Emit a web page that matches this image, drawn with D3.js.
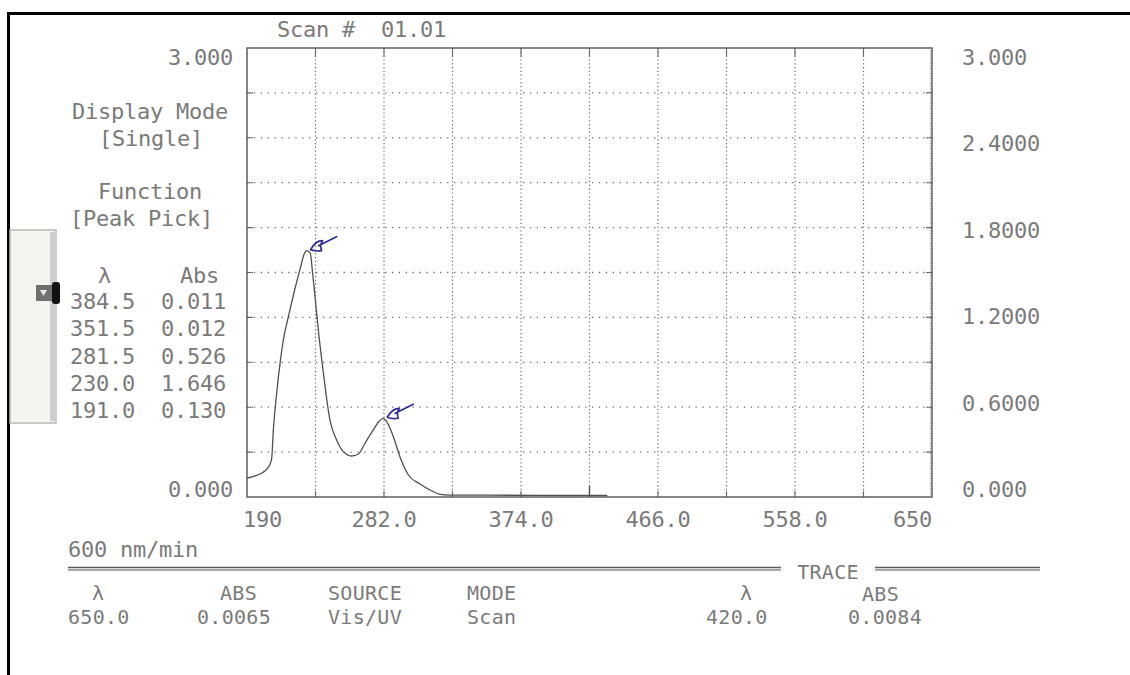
<!DOCTYPE html>
<html>
<head>
<meta charset="utf-8">
<script src="https://cdn.jsdelivr.net/npm/d3@7"></script>
<style>
  body { margin: 0; background: #fff; }
  svg { display: block; }
  text { font-family: "DejaVu Sans Mono", monospace; font-size: 22px; letter-spacing: -0.25px; fill: #7a7a7a; white-space: pre; }
  text.small { font-size: 20px; letter-spacing: 0.3px; }
</style>
</head>
<body>
<script>
//************************************************************
// Data
//************************************************************
var wavelength = [190, 195, 200, 204, 205.5, 206.6, 207.7, 210, 212.2, 214.4, 217.8, 222, 225.5, 228.5, 230,
  232.5, 234, 235.7, 237.9, 241.3, 245.7, 250.2, 254.7, 260.3, 264.8, 269.2, 274.8, 279, 281.5,
  283.8, 288.3, 292.7, 298.4, 306.2, 312.9, 319.6, 326.3, 351.5, 384.5, 432];
var absorbance = [0.127, 0.14, 0.16, 0.194, 0.22, 0.26, 0.45, 0.70, 0.895, 1.049, 1.205, 1.383, 1.517, 1.625, 1.646,
  1.63, 1.50, 1.338, 1.116, 0.828, 0.514, 0.381, 0.303, 0.274, 0.287, 0.359, 0.448, 0.51, 0.526,
  0.503, 0.403, 0.269, 0.147, 0.087, 0.047, 0.018, 0.013, 0.012, 0.011, 0.010];

var peakLambda = [384.5, 351.5, 281.5, 230.0, 191.0];
var peakAbs = [0.011, 0.012, 0.526, 1.646, 0.130];
var markedPeaks = [230.0, 281.5];   // peaks ticked with the blue pen

var xTicks = [190, 282, 374, 466, 558, 650];
var xTickLabels = ['190', '282.0', '374.0', '466.0', '558.0', '650'];
var yRightTicks = [3, 2.4, 1.8, 1.2, 0.6, 0];
var yRightLabels = ['3.000', '2.4000', '1.8000', '1.2000', '0.6000', '0.000'];
var traceLambda = 420.0;

//************************************************************
// Frame and scales
//************************************************************
const W = 1130, H = 675;
const plot = { left: 247, right: 932, top: 48, bottom: 497 };

const x = d3.scaleLinear().domain([190, 650]).range([plot.left, plot.right]);
const y = d3.scaleLinear().domain([0, 3]).range([plot.bottom, plot.top]);

const svg = d3.select("body").append("svg")
  .attr("width", W)
  .attr("height", H);

// scanned page edge
svg.append("rect").attr("x", 0).attr("y", 0).attr("width", W).attr("height", H).attr("fill", "#fff");
svg.append("line").attr("x1", 7).attr("x2", W).attr("y1", 13.5).attr("y2", 13.5)
  .attr("stroke", "#000").attr("stroke-width", 3);
svg.append("line").attr("x1", 8.5).attr("x2", 8.5).attr("y1", 12).attr("y2", H)
  .attr("stroke", "#000").attr("stroke-width", 3);

// the little window slider caught by the scanner on the left
const slider = svg.append("g");
slider.append("rect").attr("x", 10).attr("y", 230).attr("width", 46).attr("height", 193)
  .attr("fill", "#f6f4ee").attr("stroke", "#b8b8b8").attr("stroke-width", 1.5);
slider.append("rect").attr("x", 50).attr("y", 232).attr("width", 7).attr("height", 189).attr("fill", "#cfcfcf");
slider.append("rect").attr("x", 36).attr("y", 285).attr("width", 20).attr("height", 16).attr("fill", "#6f6f6f");
slider.append("rect").attr("x", 52).attr("y", 282).attr("width", 8).attr("height", 22).attr("rx", 3).attr("fill", "#111");
slider.append("path").attr("d", "M40,290 L47,290 L43.5,296 Z").attr("fill", "#e8e8e8");

//************************************************************
// Grid
//************************************************************
const grid = svg.append("g").attr("stroke", "#6a6a6a");
const xGrid = d3.range(190, 650.1, 46);
const yGrid = d3.range(0, 3.01, 0.3);

grid.selectAll(".vgrid").data(xGrid.slice(1, -1)).enter().append("line")
  .attr("class", "vgrid")
  .attr("x1", d => x(d)).attr("x2", d => x(d))
  .attr("y1", plot.top).attr("y2", plot.bottom)
  .attr("stroke-width", 1.2).attr("stroke-dasharray", "1.2,2.6");
grid.selectAll(".vtick").data(xGrid.slice(1, -1)).enter().append("path")
  .attr("class", "vtick")
  .attr("d", d => "M" + x(d) + "," + plot.top + "v9M" + x(d) + "," + plot.bottom + "v-6")
  .attr("stroke-width", 1.1);

grid.selectAll(".hgrid").data(yGrid.slice(1, -1)).enter().append("line")
  .attr("class", "hgrid")
  .attr("x1", plot.left).attr("x2", plot.right)
  .attr("y1", d => y(d)).attr("y2", d => y(d))
  .attr("stroke-width", 1.3).attr("stroke-dasharray", "1.3,5.6");
grid.selectAll(".htick").data(yGrid.slice(1, -1)).enter().append("path")
  .attr("class", "htick")
  .attr("d", d => "M" + plot.left + "," + y(d) + "h6M" + plot.right + "," + y(d) + "h-6")
  .attr("stroke-width", 1.1);

// frame
svg.append("rect")
  .attr("x", plot.left).attr("y", plot.top)
  .attr("width", plot.right - plot.left).attr("height", plot.bottom - plot.top)
  .attr("fill", "none").attr("stroke", "#555").attr("stroke-width", 1.4);
svg.append("line")
  .attr("x1", plot.right - 1.5).attr("x2", plot.right - 1.5).attr("y1", plot.top).attr("y2", plot.bottom)
  .attr("stroke", "#999").attr("stroke-width", 1).attr("stroke-dasharray", "1,1.5");

// trace cursor
svg.append("line")
  .attr("x1", x(traceLambda)).attr("x2", x(traceLambda))
  .attr("y1", plot.bottom).attr("y2", plot.bottom - 11)
  .attr("stroke", "#555").attr("stroke-width", 1.4);

//************************************************************
// Spectrum
//************************************************************
const spectrum = d3.zip(wavelength, absorbance);
const line = d3.line()
  .x(d => x(d[0]))
  .y(d => y(d[1]))
  .curve(d3.curveMonotoneX);

svg.append("path")
  .datum(spectrum)
  .attr("d", line)
  .attr("fill", "none")
  .attr("stroke", "#505050")
  .attr("stroke-width", 1.3);

// blue pen ticks at the marked peaks
svg.selectAll(".pen").data(markedPeaks).enter().append("path")
  .attr("class", "pen")
  .attr("transform", function (d) {
    var a = absorbance[wavelength.indexOf(d)];
    return "translate(" + (x(d) + 4) + "," + (y(a) - 1) + ")";
  })
  .attr("d", "M0,0 Q5,-9 12,-9 Q9,-4 11,1 Q5,2 0,0 M8,-4 L26,-13")
  .attr("fill", "none")
  .attr("stroke", "#2d2d9e")
  .attr("stroke-width", 1.7)
  .attr("stroke-linecap", "round")
  .attr("stroke-linejoin", "round");

//************************************************************
// Axis labels
//************************************************************
svg.selectAll(".xlab").data(xTicks).enter().append("text")
  .attr("class", "xlab")
  .attr("x", (d, i) => i === 0 ? x(d) - 4 : x(d))
  .attr("y", 527)
  .attr("text-anchor", (d, i) => i === 0 ? "start" : (i === xTicks.length - 1 ? "end" : "middle"))
  .text((d, i) => xTickLabels[i]);

const yLabelPos = d3.scaleLinear().domain([3, 0]).range([65, 497]);
svg.selectAll(".ylab").data(yRightTicks).enter().append("text")
  .attr("class", "ylab")
  .attr("x", 962)
  .attr("y", d => yLabelPos(d))
  .text((d, i) => yRightLabels[i]);

svg.append("text").attr("x", 233).attr("y", yLabelPos(3)).attr("text-anchor", "end").text("3.000");
svg.append("text").attr("x", 233).attr("y", yLabelPos(0)).attr("text-anchor", "end").text("0.000");

svg.append("text").attr("x", 277).attr("y", 37).text("Scan #  01.01");

// left side panel
svg.append("text").attr("x", 72).attr("y", 119).text("Display Mode");
svg.append("text").attr("x", 99).attr("y", 146).text("[Single]");
svg.append("text").attr("x", 98).attr("y", 199).text("Function");
svg.append("text").attr("x", 70).attr("y", 226).text("[Peak Pick]");

svg.append("text").attr("x", 98).attr("y", 283).text("λ");
svg.append("text").attr("x", 180).attr("y", 283).text("Abs");
svg.selectAll(".pk").data(peakLambda).enter().append("text")
  .attr("class", "pk")
  .attr("x", 70)
  .attr("y", (d, i) => 309 + i * 27.3)
  .text((d, i) => d.toFixed(1) + "  " + peakAbs[i].toFixed(3));

// bottom status block
svg.append("text").attr("x", 68).attr("y", 557).text("600 nm/min");
const sep = svg.append("g").attr("stroke", "#5a5a5a").attr("stroke-width", 1.3);
[[68, 781], [875, 1040]].forEach(function (s) {
  sep.append("line").attr("x1", s[0]).attr("x2", s[1]).attr("y1", 567.5).attr("y2", 567.5);
  sep.append("line").attr("x1", s[0]).attr("x2", s[1]).attr("y1", 570).attr("y2", 570).attr("stroke", "#8a8a8a");
});
svg.append("text").attr("class", "small").attr("x", 828).attr("y", 579).attr("text-anchor", "middle").text("TRACE");

const status = [
  [92, 600, "λ"], [68, 624, "650.0"],
  [220, 600, "ABS"], [197, 624, "0.0065"],
  [328, 600, "SOURCE"], [328, 624, "Vis/UV"],
  [467, 600, "MODE"], [467, 624, "Scan"],
  [740, 600, "λ"], [706, 624, "420.0"],
  [862, 601, "ABS"], [848, 624, "0.0084"]
];
svg.selectAll(".status").data(status).enter().append("text")
  .attr("class", "status small")
  .attr("x", d => d[0])
  .attr("y", d => d[1])
  .text(d => d[2]);
</script>
</body>
</html>
